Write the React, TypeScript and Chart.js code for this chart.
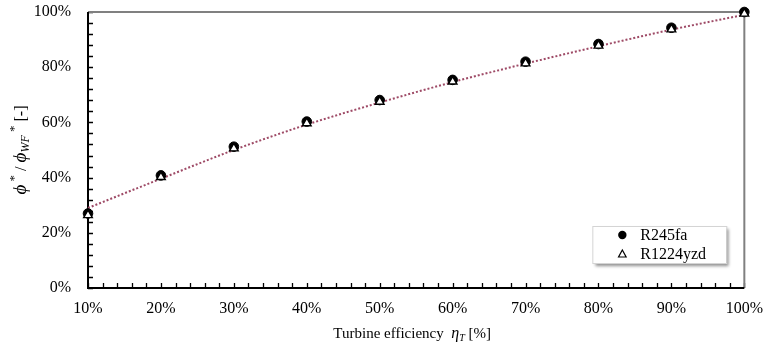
import React, { useEffect, useRef } from 'react';
import { Chart, registerables } from 'chart.js';

Chart.register(...registerables);

// ---- data ----
const efficiency = [10, 20, 30, 40, 50, 60, 70, 80, 90, 100];
const r245fa = [27.0, 40.8, 51.2, 60.3, 68.1, 75.4, 82.0, 88.4, 94.3, 100.0];
const r1224yzd = [26.4, 40.2, 50.6, 59.7, 67.5, 74.8, 81.4, 87.8, 93.7, 99.4];
const trendValues = [29.0, 39.6, 50.0, 59.2, 67.2, 74.6, 81.3, 87.6, 93.6, 99.0];
const seriesLabels = ['R245fa', 'R1224yzd'];
const xRange = [10, 100];
const yRange = [0, 100];
const xMajorStep = 10;
const yMajorStep = 20;
const xMinorStep = 2;
const yMinorStep = 4;

const SERIF = '"Liberation Serif", "Times New Roman", serif';

const framePlugin = {
  id: 'frameTicks',
  beforeDatasetsDraw(chart: any) {
    const { ctx, chartArea: a, scales } = chart;
    const x = scales.x;
    const y = scales.y;
    ctx.save();
    ctx.strokeStyle = '#000';
    ctx.lineWidth = 1.3;
    ctx.beginPath();
    for (let v = xRange[0]; v <= xRange[1]; v += xMinorStep) {
      const px = Math.round(x.getPixelForValue(v)) + 0.5;
      ctx.moveTo(px, a.bottom);
      ctx.lineTo(px, a.bottom - 5);
    }
    for (let v = yRange[0]; v <= yRange[1]; v += yMinorStep) {
      const py = Math.round(y.getPixelForValue(v)) + 0.5;
      ctx.moveTo(a.left, py);
      ctx.lineTo(a.left + 5, py);
    }
    ctx.stroke();
    ctx.strokeStyle = '#808080';
    ctx.lineWidth = 2;
    ctx.beginPath();
    ctx.moveTo(a.left, a.top);
    ctx.lineTo(a.right, a.top);
    ctx.lineTo(a.right, a.bottom);
    ctx.stroke();
    ctx.strokeStyle = '#000';
    ctx.lineWidth = 2;
    ctx.beginPath();
    ctx.moveTo(a.left, a.top);
    ctx.lineTo(a.left, a.bottom);
    ctx.lineTo(a.right, a.bottom);
    ctx.stroke();
    ctx.restore();
  },
};

function drawRich(ctx: any, pieces: any[], startX: number, baseY: number) {
  let cx = startX;
  for (const p of pieces) {
    ctx.font = `${p.italic ? 'italic ' : ''}${p.size}px ${SERIF}`;
    ctx.fillText(p.text, cx, baseY + (p.dy || 0));
    cx += ctx.measureText(p.text).width;
  }
}
function richWidth(ctx: any, pieces: any[]) {
  let w = 0;
  for (const p of pieces) {
    ctx.font = `${p.italic ? 'italic ' : ''}${p.size}px ${SERIF}`;
    w += ctx.measureText(p.text).width;
  }
  return w;
}

const titlePlugin = {
  id: 'richTitles',
  afterDraw(chart: any) {
    const { ctx, chartArea: a } = chart;
    ctx.save();
    ctx.fillStyle = '#000';
    ctx.textBaseline = 'alphabetic';
    ctx.textAlign = 'left';
    const xp = [
      { text: 'Turbine efficiency  ', size: 15 },
      { text: 'η', size: 16, italic: true },
      { text: 'T', size: 10, italic: true, dy: 3 },
      { text: ' [%]', size: 15 },
    ];
    const xw = richWidth(ctx, xp);
    drawRich(ctx, xp, (a.left + a.right) / 2 - 4 - xw / 2, 338);
    const yp = [
      { text: 'ϕ', size: 19, italic: true },
      { text: ' *', size: 13, dy: -8 },
      { text: ' / ', size: 16 },
      { text: 'ϕ', size: 19, italic: true },
      { text: 'WF', size: 12, italic: true, dy: 3 },
      { text: ' *', size: 13, dy: -8 },
      { text: ' [-]', size: 16 },
    ];
    const yw = richWidth(ctx, yp);
    ctx.translate(26, (a.top + a.bottom) / 2);
    ctx.rotate(-Math.PI / 2);
    drawRich(ctx, yp, -yw / 2, 0);
    ctx.restore();
  },
};

const legendPlugin = {
  id: 'boxLegend',
  afterDraw(chart: any) {
    const { ctx, chartArea: a } = chart;
    const w = 134;
    const h = 37;
    const left = a.right - 18 - w;
    const top = a.bottom - 25 - h;
    ctx.save();
    ctx.shadowColor = 'rgba(0,0,0,0.45)';
    ctx.shadowBlur = 3;
    ctx.shadowOffsetX = 3;
    ctx.shadowOffsetY = 3;
    ctx.fillStyle = '#fff';
    ctx.fillRect(left, top, w, h);
    ctx.shadowColor = 'transparent';
    ctx.strokeStyle = '#d4d4d4';
    ctx.lineWidth = 1;
    ctx.strokeRect(left + 0.5, top + 0.5, w, h);
    const items = chart.data.datasets.filter((d: any) => !d.isTrend);
    items.forEach((d: any, i: number) => {
      const cy = top + 9 + i * 19;
      const mx = left + 30;
      ctx.lineWidth = 1.2;
      ctx.strokeStyle = '#000';
      if (d.pointStyle === 'circle') {
        ctx.fillStyle = '#000';
        ctx.beginPath();
        ctx.arc(mx, cy, 4.2, 0, Math.PI * 2);
        ctx.fill();
      } else {
        ctx.fillStyle = '#fff';
        ctx.beginPath();
        ctx.moveTo(mx, cy - 4);
        ctx.lineTo(mx + 3.8, cy + 3);
        ctx.lineTo(mx - 3.8, cy + 3);
        ctx.closePath();
        ctx.fill();
        ctx.stroke();
      }
      ctx.fillStyle = '#000';
      ctx.font = `16px ${SERIF}`;
      ctx.textBaseline = 'middle';
      ctx.textAlign = 'left';
      ctx.fillText(d.label, left + 48, cy + 1);
    });
    ctx.restore();
  },
};

export default function App() {
  const ref = useRef<HTMLCanvasElement | null>(null);
  useEffect(() => {
    document.body.style.margin = '0';
    const canvas = ref.current;
    if (!canvas) return;
    const chart = new Chart(canvas, {
      type: 'scatter',
      data: {
        datasets: [
          {
            type: 'line',
            label: 'trend',
            isTrend: true,
            data: efficiency.map((e, i) => ({ x: e, y: trendValues[i] })),
            borderColor: '#9E4A66',
            borderWidth: 2,
            borderDash: [2, 2],
            pointRadius: 0,
            cubicInterpolationMode: 'monotone',
            fill: false,
            clip: false,
            order: 3,
          } as any,
          {
            label: seriesLabels[0],
            data: efficiency.map((e, i) => ({ x: e, y: r245fa[i] })),
            pointStyle: 'circle',
            pointRadius: 4.8,
            backgroundColor: '#000',
            borderColor: '#000',
            borderWidth: 1,
            clip: false,
            order: 2,
          },
          {
            label: seriesLabels[1],
            data: efficiency.map((e, i) => ({ x: e, y: r1224yzd[i] })),
            pointStyle: 'triangle',
            pointRadius: 5,
            backgroundColor: '#fff',
            borderColor: '#000',
            borderWidth: 1.4,
            clip: false,
            order: 1,
          },
        ],
      },
      options: {
        responsive: false,
        animation: false,
        layout: { padding: { top: 12, right: 18, left: 0, bottom: 0 }, autoPadding: false },
        plugins: { legend: { display: false }, tooltip: { enabled: false }, title: { display: false } },
        scales: {
          x: {
            type: 'linear',
            min: xRange[0],
            max: xRange[1],
            ticks: {
              stepSize: xMajorStep,
              color: '#000',
              font: { family: SERIF, size: 16, lineHeight: 2.6 },
              padding: 0,
              maxRotation: 0,
              callback: (v: any) => `${v}%`,
            },
            grid: { display: false, drawTicks: false },
            border: { display: false },
            afterFit: (s: any) => { s.height = 61; },
          },
          y: {
            min: yRange[0],
            max: yRange[1],
            ticks: {
              stepSize: yMajorStep,
              color: '#000',
              font: { family: SERIF, size: 16 },
              padding: 1,
              callback: (v: any) => `${v}%    `,
            },
            grid: { display: false, drawTicks: false },
            border: { display: false },
            afterFit: (s: any) => { s.width = 88; },
          },
        },
      },
      plugins: [framePlugin, titlePlugin, legendPlugin],
    });
    return () => chart.destroy();
  }, []);
  return (
    <div style={{ width: 763, height: 349 }}>
      <canvas ref={ref} width={763} height={349} />
    </div>
  );
}
